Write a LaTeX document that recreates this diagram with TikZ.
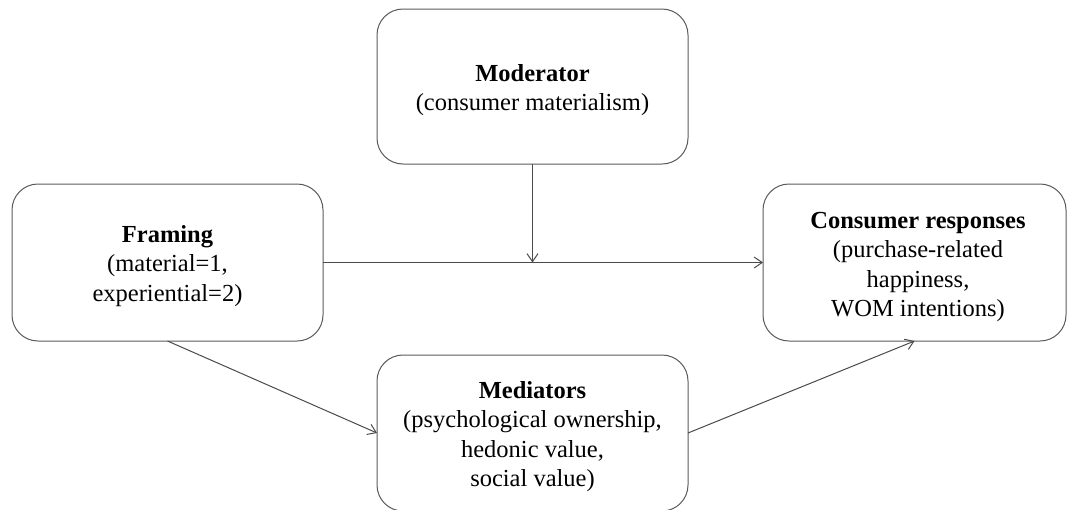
\documentclass[tikz,border=0pt]{standalone}
\usepackage{fontspec}
\setmainfont{Liberation Serif}
\usetikzlibrary{arrows.meta}
\definecolor{boxgray}{HTML}{5A5A5A}
\definecolor{arrgray}{HTML}{4A4A4A}
\begin{document}
\begin{tikzpicture}[x=1pt,y=-1pt,
  box/.style={draw=boxgray, line width=1pt, rounded corners=26pt, rectangle,
    inner sep=0pt, outer sep=0pt},
  txt/.style={align=center, inner sep=0pt, anchor=base,
    font=\fontsize{24.5}{29.5}\selectfont},
  conn/.style={draw=arrgray, line width=1pt,
    -{Straight Barb[length=8pt,width=11pt,line width=1pt]}}]
\useasboundingbox (0,0) rectangle (1068,509);
\clip (0,0) rectangle (1068,509);
% boxes
\node[box, minimum width=311pt, minimum height=155pt] (mod) at (532.5,86.5) {};
\node[box, minimum width=311pt, minimum height=157pt] (fra) at (167.5,262.5) {};
\node[box, minimum width=303pt, minimum height=157pt] (con) at (914.5,262.5) {};
\node[box, minimum width=311pt, minimum height=156pt] (med) at (532.5,433) {};
% texts (anchored at the baseline of the last line)
\node[txt] (modt) at (532.5,110.5) {\textbf{Moderator}\\(consumer materialism)};
\node[txt] (frat) at (167.5,301) {\textbf{Framing}\\(material=1,\\experiential=2)};
\node[txt] (cont) at (918,316.5) {\textbf{Consumer responses}\\(purchase-related\\happiness,\\WOM intentions)};
\node[txt] (medt) at (532.5,486.5) {\textbf{Mediators}\\(psychological ownership,\\hedonic value,\\social value)};
% connectors
\coordinate (j) at (532.5,262.5);
\draw[conn] (fra.east) -- (con.west);
\draw[conn] (mod.south) -- (j);
\draw[conn] (fra.south) -- (med.west);
\draw[conn] (med.east) -- (con.south);
\end{tikzpicture}
\end{document}
